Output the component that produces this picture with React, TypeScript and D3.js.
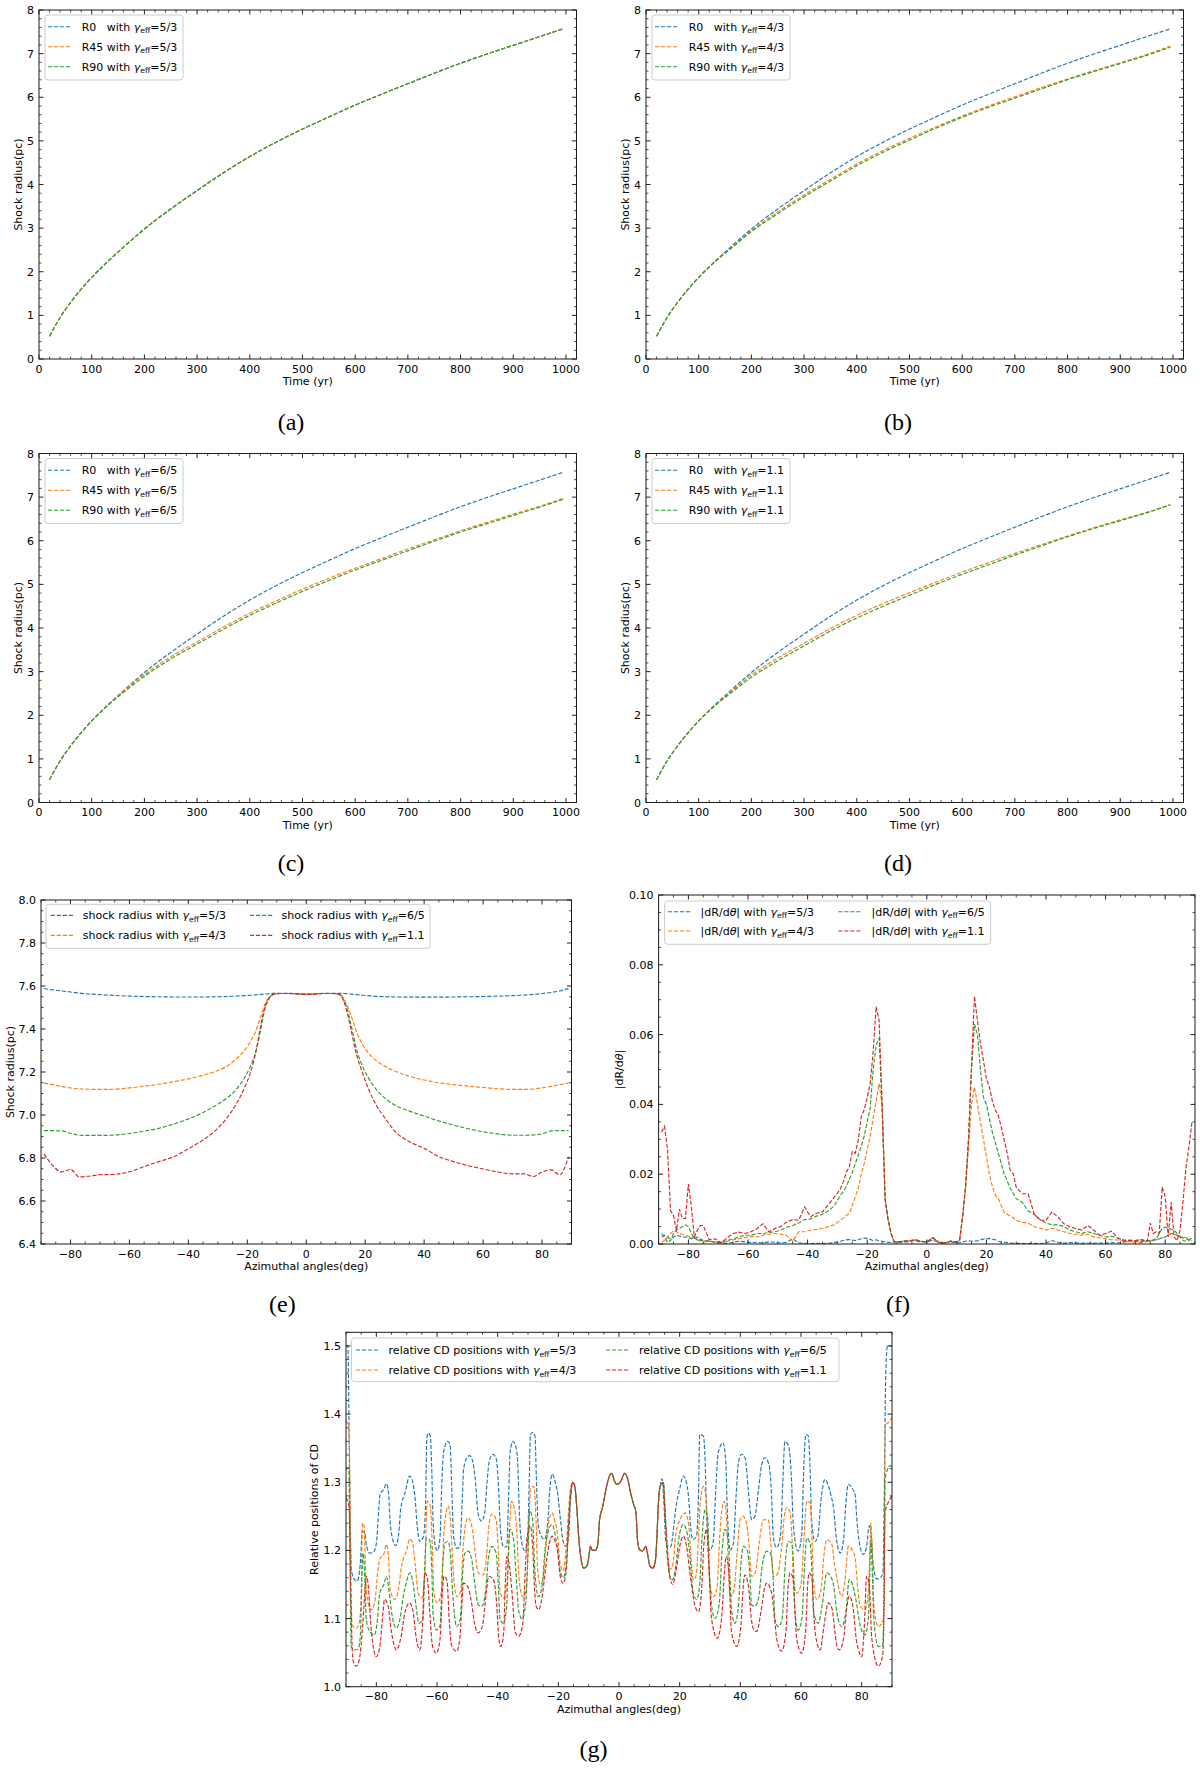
import React from 'react';
import * as d3 from 'd3';

// matplotlib tab10
const BLUE = '#1f77b4';
const ORANGE = '#ff7f0e';
const GREEN = '#2ca02c';
const RED = '#d62728';

// ---------- panels (a)-(d): shock radius vs time ----------
const time = [20, 40, 60, 80, 100, 130, 160, 200, 250, 300, 350, 400, 450, 500, 550, 600, 650, 700, 750, 800, 850, 900, 950, 995];
// R0 is the same in all four runs
const r0 = [0.52, 0.95, 1.30, 1.60, 1.87, 2.23, 2.56, 2.98, 3.44, 3.86, 4.27, 4.64, 4.97, 5.27, 5.55, 5.82, 6.07, 6.31, 6.55, 6.78, 6.99, 7.19, 7.39, 7.57];
// gamma 5/3 : R45, R90 lie on R0
const r45g53 = [0.52, 0.95, 1.30, 1.60, 1.87, 2.23, 2.56, 2.98, 3.44, 3.86, 4.27, 4.64, 4.97, 5.27, 5.55, 5.82, 6.07, 6.31, 6.55, 6.78, 6.99, 7.19, 7.39, 7.57];
const r90g53 = [0.52, 0.95, 1.30, 1.60, 1.87, 2.23, 2.56, 2.98, 3.44, 3.86, 4.27, 4.64, 4.97, 5.27, 5.55, 5.82, 6.07, 6.31, 6.55, 6.78, 6.99, 7.19, 7.39, 7.57];
// gamma 4/3
const r45g43 = [0.52, 0.95, 1.30, 1.60, 1.87, 2.22, 2.53, 2.94, 3.37, 3.76, 4.12, 4.47, 4.78, 5.06, 5.32, 5.57, 5.80, 6.01, 6.22, 6.42, 6.61, 6.79, 6.98, 7.17];
const r90g43 = [0.52, 0.95, 1.30, 1.60, 1.87, 2.22, 2.52, 2.92, 3.33, 3.72, 4.08, 4.43, 4.74, 5.02, 5.29, 5.54, 5.77, 5.98, 6.19, 6.40, 6.59, 6.77, 6.96, 7.15];
// gamma 6/5
const r45g65 = [0.52, 0.95, 1.30, 1.60, 1.87, 2.22, 2.55, 2.93, 3.34, 3.68, 4.02, 4.34, 4.62, 4.89, 5.14, 5.37, 5.59, 5.81, 6.02, 6.23, 6.42, 6.61, 6.79, 6.97];
const r90g65 = [0.52, 0.95, 1.30, 1.60, 1.87, 2.22, 2.52, 2.89, 3.29, 3.63, 3.97, 4.29, 4.57, 4.84, 5.09, 5.33, 5.55, 5.77, 5.99, 6.20, 6.39, 6.58, 6.77, 6.95];
// gamma 1.1
const r45g11 = [0.52, 0.95, 1.30, 1.60, 1.87, 2.22, 2.53, 2.92, 3.31, 3.65, 3.99, 4.29, 4.56, 4.81, 5.05, 5.28, 5.50, 5.71, 5.91, 6.11, 6.30, 6.48, 6.65, 6.83];
const r90g11 = [0.52, 0.95, 1.30, 1.60, 1.87, 2.21, 2.50, 2.87, 3.25, 3.59, 3.93, 4.23, 4.50, 4.75, 5.00, 5.23, 5.45, 5.67, 5.88, 6.09, 6.28, 6.46, 6.64, 6.82];

// ---------- panel (e): shock radius vs azimuth ----------
const eAngle = [-89, -86, -83, -80, -77, -74, -70, -65, -60, -55, -50, -45, -40, -35, -30, -27, -24, -21, -19, -17, -16, -15, -14, -13, -12, -11, -9, -6, -3, 0, 3, 6, 9, 11, 12, 13, 14, 15, 16, 17, 19, 21, 24, 27, 30, 35, 40, 45, 50, 55, 60, 65, 70, 74, 77, 80, 83, 86, 89];
const eG53 = [7.588, 7.582, 7.577, 7.572, 7.567, 7.563, 7.560, 7.556, 7.553, 7.551, 7.550, 7.549, 7.549, 7.549, 7.550, 7.551, 7.553, 7.555, 7.557, 7.559, 7.560, 7.561, 7.562, 7.564, 7.565, 7.566, 7.566, 7.566, 7.564, 7.562, 7.564, 7.566, 7.566, 7.566, 7.566, 7.565, 7.564, 7.563, 7.561, 7.560, 7.557, 7.555, 7.552, 7.550, 7.549, 7.548, 7.548, 7.548, 7.549, 7.550, 7.551, 7.553, 7.555, 7.558, 7.561, 7.565, 7.570, 7.577, 7.588];
const eG43 = [7.148, 7.141, 7.133, 7.126, 7.122, 7.120, 7.119, 7.120, 7.126, 7.134, 7.143, 7.155, 7.168, 7.185, 7.207, 7.226, 7.258, 7.300, 7.340, 7.395, 7.435, 7.475, 7.515, 7.540, 7.555, 7.562, 7.565, 7.565, 7.563, 7.561, 7.563, 7.565, 7.565, 7.562, 7.555, 7.535, 7.505, 7.470, 7.430, 7.390, 7.330, 7.290, 7.250, 7.225, 7.205, 7.180, 7.163, 7.150, 7.141, 7.134, 7.128, 7.122, 7.119, 7.119, 7.121, 7.126, 7.133, 7.141, 7.148];
const eG65 = [6.927, 6.927, 6.926, 6.915, 6.906, 6.905, 6.905, 6.907, 6.914, 6.925, 6.938, 6.958, 6.982, 7.012, 7.050, 7.078, 7.115, 7.172, 7.225, 7.300, 7.360, 7.430, 7.495, 7.530, 7.553, 7.562, 7.565, 7.565, 7.563, 7.561, 7.563, 7.565, 7.565, 7.562, 7.550, 7.525, 7.490, 7.430, 7.370, 7.310, 7.230, 7.175, 7.115, 7.075, 7.046, 7.018, 6.995, 6.972, 6.953, 6.936, 6.922, 6.912, 6.906, 6.906, 6.907, 6.912, 6.926, 6.927, 6.927];
const eG11 = [6.819, 6.765, 6.735, 6.747, 6.712, 6.715, 6.722, 6.724, 6.736, 6.760, 6.783, 6.806, 6.843, 6.884, 6.938, 6.985, 7.045, 7.125, 7.195, 7.300, 7.375, 7.445, 7.505, 7.535, 7.553, 7.562, 7.565, 7.565, 7.563, 7.561, 7.563, 7.565, 7.565, 7.562, 7.550, 7.520, 7.470, 7.410, 7.345, 7.285, 7.200, 7.125, 7.040, 6.980, 6.925, 6.876, 6.845, 6.806, 6.783, 6.764, 6.749, 6.735, 6.726, 6.726, 6.714, 6.735, 6.745, 6.722, 6.806];

// ---------- panel (f): |dR/dtheta| vs azimuth ----------
const fAngle = [
  -89, -88, -87, -86, -85, -84, -83, -82, -81, -80, -79, -78, -77, -76, -75,
  -73, -71, -69, -67, -65, -63, -61, -59, -57, -55, -53, -51, -49, -47, -45, -43, -41, -39, -37, -35, -33, -31,
  -30, -29, -28, -27, -26, -25, -24, -23, -22, -21, -20, -19, -18, -17, -16, -15, -14, -13, -12, -11, -10,
  -8, -6, -4, -2, 0, 2, 4, 6, 8,
  10, 11, 12, 13, 14, 15, 16, 17, 18, 19, 20, 21, 22, 23, 24, 25, 26, 27, 28, 29, 30,
  32, 34, 36, 38, 40, 42, 44, 46, 48, 50, 52, 54, 56, 58, 60, 62, 64, 66, 68, 70, 72, 74,
  75, 76, 77, 78, 79, 80, 81, 82, 83, 84, 85, 86, 87, 88, 89,
];
const fG53 = [
  0.002, 0.0025, 0.002, 0.0015, 0.002, 0.0025, 0.0023, 0.002, 0.002, 0.0018, 0.0015, 0.0018, 0.0012, 0.0015, 0.001,
  0.0008, 0.0005, 0.0003, 0.0002, 0.0005, 0.0008, 0.0006, 0.0004, 0.0005, 0.0003, 0.0006, 0.0005, 0.0003, 0.0005, 0.0015, 0.0003, 0.0002, 0.0001, 0.0002, 0.0001, 0.0002, 0.0004,
  0.0006, 0.0008, 0.001, 0.0012, 0.0013, 0.0011, 0.001, 0.0012, 0.0015, 0.0017, 0.0016, 0.0013, 0.001, 0.0012, 0.0009, 0.0008, 0.0006, 0.0005, 0.0004, 0.0003, 0.0003,
  0.0005, 0.0007, 0.001, 0.0006, 0.0005, 0.0012, 0.0004, 0.0003, 0.0006,
  0.0003, 0.0004, 0.0006, 0.0008, 0.0009, 0.0008, 0.0008, 0.0009, 0.0012, 0.0014, 0.0015, 0.0016, 0.0014, 0.0012, 0.0008, 0.0006, 0.0005, 0.0004, 0.0003, 0.0002, 0.0002,
  0.0002, 0.0001, 0.0002, 0.0001, 0.0003, 0.001, 0.0005, 0.0002, 0.0004, 0.0003, 0.0002, 0.0003, 0.0002, 0.0003, 0.0002, 0.0004, 0.0003, 0.0005, 0.0008, 0.001, 0.0012, 0.0009,
  0.0008, 0.001, 0.0012, 0.0015, 0.0018, 0.002, 0.0025, 0.003, 0.0028, 0.0025, 0.002, 0.0018, 0.0015, 0.0012, 0.001,
];
const fG43 = [
  0.0005, 0.001, 0.002, 0.003, 0.0038, 0.0035, 0.003, 0.0028, 0.0025, 0.0022, 0.002, 0.0018, 0.0012, 0.0008, 0.0005,
  0.0008, 0.0006, 0.0005, 0.0008, 0.0012, 0.0015, 0.0018, 0.0022, 0.002, 0.0025, 0.0028, 0.003, 0.0028, 0.0025, 0.0008, 0.0035, 0.0035, 0.004, 0.0042, 0.0045, 0.005, 0.0055,
  0.0062, 0.0068, 0.0075, 0.0082, 0.0088, 0.011, 0.0135, 0.016, 0.020, 0.023, 0.027, 0.031, 0.036, 0.041, 0.046, 0.040, 0.013, 0.007, 0.003, 0.0007, 0.0006,
  0.0008, 0.0009, 0.0012, 0.0008, 0.0006, 0.0018, 0.0005, 0.0003, 0.0008,
  0.0006, 0.001, 0.0077, 0.0163, 0.028, 0.040, 0.045, 0.040, 0.035, 0.030, 0.025, 0.020, 0.0165, 0.014, 0.013, 0.011, 0.009, 0.0085, 0.008, 0.0075, 0.0068,
  0.0062, 0.006, 0.005, 0.0045, 0.004, 0.0045, 0.004, 0.0035, 0.003, 0.0028, 0.0025, 0.0028, 0.002, 0.0018, 0.0015, 0.0012, 0.0012, 0.0008, 0.0006, 0.0005, 0.0004, 0.0008,
  0.001, 0.0009, 0.0012, 0.0015, 0.0018, 0.002, 0.0025, 0.003, 0.0028, 0.0025, 0.0023, 0.002, 0.0018, 0.0016, 0.0015,
];
const fG65 = [
  0.003, 0.002, 0.0005, 0.001, 0.003, 0.004, 0.0045, 0.005, 0.0055, 0.005, 0.003, 0.0015, 0.002, 0.001, 0.001,
  0.0008, 0.0006, 0.0005, 0.001, 0.0015, 0.002, 0.0025, 0.0025, 0.003, 0.003, 0.0033, 0.0035, 0.004, 0.0048, 0.0053, 0.006, 0.007, 0.0072, 0.008, 0.0085, 0.0095, 0.011,
  0.0125, 0.014, 0.015, 0.0165, 0.0185, 0.0205, 0.023, 0.0255, 0.028, 0.031, 0.035, 0.039, 0.05, 0.057, 0.059, 0.040, 0.013, 0.007, 0.003, 0.0007, 0.0006,
  0.0008, 0.0009, 0.0012, 0.0008, 0.0006, 0.0018, 0.0005, 0.0003, 0.0008,
  0.0006, 0.001, 0.0077, 0.0163, 0.030, 0.050, 0.063, 0.060, 0.050, 0.042, 0.040, 0.036, 0.032, 0.029, 0.026, 0.023, 0.020, 0.018, 0.016, 0.0145, 0.013,
  0.012, 0.0095, 0.0085, 0.007, 0.006, 0.0055, 0.0055, 0.005, 0.004, 0.0035, 0.003, 0.0035, 0.003, 0.0025, 0.002, 0.0022, 0.0018, 0.0012, 0.001, 0.0008, 0.0006, 0.001,
  0.001, 0.0012, 0.0015, 0.003, 0.0045, 0.0048, 0.0045, 0.0042, 0.004, 0.003, 0.002, 0.001, 0.0008, 0.001, 0.002,
];
const fG11 = [
  0.032, 0.0337, 0.027, 0.0096, 0.0082, 0.0039, 0.010, 0.0073, 0.0073, 0.0172, 0.0106, 0.002, 0.0039, 0.0053, 0.0053,
  0.0012, 0.0015, 0.0003, 0.0018, 0.003, 0.0034, 0.003, 0.0035, 0.0044, 0.0058, 0.0035, 0.0044, 0.005, 0.0063, 0.007, 0.0068, 0.0106, 0.0078, 0.0088, 0.0092, 0.0113, 0.0135,
  0.0146, 0.0158, 0.0178, 0.0206, 0.022, 0.0265, 0.026, 0.0297, 0.0364, 0.0385, 0.042, 0.046, 0.055, 0.068, 0.064, 0.040, 0.013, 0.007, 0.003, 0.0007, 0.0006,
  0.0008, 0.0009, 0.0012, 0.0008, 0.0006, 0.0018, 0.0005, 0.0003, 0.0008,
  0.0006, 0.001, 0.0077, 0.0163, 0.030, 0.051, 0.071, 0.064, 0.0574, 0.0526, 0.0474, 0.045, 0.041, 0.0383, 0.0368, 0.0335, 0.0297, 0.0259, 0.0211, 0.0201, 0.0163,
  0.0144, 0.0144, 0.0087, 0.0068, 0.0068, 0.0092, 0.0077, 0.0058, 0.0049, 0.0044, 0.004, 0.0053, 0.004, 0.0025, 0.003, 0.0037, 0.0018, 0.0009, 0.0011, 0.001, 0.0012, 0.0008,
  0.006, 0.003, 0.0035, 0.003, 0.0163, 0.0135, 0.002, 0.012, 0.002, 0.001, 0.004, 0.0125, 0.022, 0.028, 0.035,
];

// ---------- panel (g): relative CD positions [angle, value] ----------
const gCenter: [number, number][] = [
  [-14.6, 1.295], [-13.8, 1.255], [-13.2, 1.215], [-12.6, 1.19], [-11.6, 1.174], [-10.5, 1.178], [-9.9, 1.192], [-9.4, 1.206], [-8.8, 1.2], [-7.8, 1.2], [-7, 1.208], [-6.4, 1.245], [-5.5, 1.262], [-4.5, 1.285], [-3.4, 1.306], [-2.4, 1.313], [-1.6, 1.303], [-0.8, 1.297], [0, 1.298], [0.8, 1.303], [1.8, 1.313], [2.8, 1.306], [3.8, 1.285], [4.8, 1.268], [5.6, 1.255], [6.1, 1.215], [6.8, 1.201], [7.6, 1.199], [8.4, 1.203], [8.8, 1.206], [9.4, 1.195], [10.2, 1.177], [11.2, 1.174], [12, 1.185], [12.5, 1.22], [13, 1.27], [13.6, 1.295],
];
const gLeft53: [number, number][] = [
  [-90, 1.5], [-89.4, 1.5], [-88.8, 1.3], [-88.2, 1.17], [-87.2, 1.157], [-86.3, 1.155], [-85.3, 1.18], [-84.6, 1.228], [-83.8, 1.225], [-83.2, 1.206], [-82.2, 1.196], [-81, 1.197], [-80, 1.21], [-79.2, 1.26], [-78.8, 1.282], [-77.5, 1.29], [-76.7, 1.298], [-76, 1.285], [-75.5, 1.245], [-74.8, 1.22], [-73.6, 1.207], [-72.6, 1.225], [-72, 1.26], [-70.5, 1.285], [-69, 1.309], [-68, 1.3], [-67.3, 1.28], [-66.5, 1.235], [-65.7, 1.213], [-64.5, 1.22], [-63.8, 1.26], [-63.4, 1.36], [-63, 1.372], [-62.2, 1.368], [-61.8, 1.33], [-61.3, 1.245], [-60.5, 1.205], [-59.8, 1.2], [-59, 1.22], [-58.4, 1.3], [-57.8, 1.345], [-56.5, 1.36], [-55.7, 1.355], [-55.2, 1.3], [-54.5, 1.22], [-53.5, 1.203], [-52.5, 1.205], [-51.8, 1.26], [-51.2, 1.32], [-50, 1.337], [-49.2, 1.339], [-48.2, 1.33], [-47.3, 1.3], [-46.5, 1.255], [-45.3, 1.243], [-44.3, 1.255], [-43.5, 1.3], [-42.8, 1.33], [-41.6, 1.341], [-40.5, 1.335], [-39.8, 1.3], [-39, 1.225], [-38, 1.205], [-37, 1.205], [-36.4, 1.28], [-35.9, 1.343], [-35, 1.36], [-34, 1.352], [-33.4, 1.33], [-32.8, 1.25], [-32, 1.21], [-31.2, 1.2], [-30.2, 1.21], [-29.6, 1.3], [-29.2, 1.37], [-28.5, 1.373], [-27.7, 1.368], [-27.2, 1.3], [-26.6, 1.236], [-25.5, 1.22], [-24.6, 1.216], [-23.5, 1.24], [-22.8, 1.29], [-22, 1.312], [-21, 1.3], [-20.2, 1.283], [-19.3, 1.245], [-18.5, 1.215], [-17.6, 1.206], [-16.6, 1.22], [-16, 1.27], [-15.3, 1.3],
];
const gRight53: [number, number][] = [
  [14.2, 1.305], [14.8, 1.27], [15.4, 1.215], [16.2, 1.206], [17, 1.205], [17.8, 1.225], [18.6, 1.258], [20, 1.29], [21.2, 1.309], [22.2, 1.3], [23, 1.275], [23.6, 1.235], [24.3, 1.216], [25.5, 1.22], [26.2, 1.28], [26.6, 1.37], [27.8, 1.368], [28.4, 1.33], [28.9, 1.245], [29.8, 1.2], [31, 1.21], [31.8, 1.28], [32.7, 1.343], [34.3, 1.358], [35.2, 1.33], [35.7, 1.26], [36.6, 1.2], [37.7, 1.21], [38.6, 1.28], [39.4, 1.33], [40.4, 1.341], [41.6, 1.335], [42.6, 1.29], [43.7, 1.245], [44.8, 1.25], [46, 1.29], [47, 1.325], [48.1, 1.336], [49.5, 1.325], [50.3, 1.28], [50.9, 1.218], [52, 1.204], [53.2, 1.22], [54, 1.3], [54.7, 1.36], [56, 1.352], [56.8, 1.31], [57.5, 1.235], [59, 1.199], [60.2, 1.22], [60.9, 1.32], [61.6, 1.37], [62.4, 1.368], [63, 1.32], [63.5, 1.245], [64.6, 1.213], [65.6, 1.222], [66.5, 1.27], [67.9, 1.304], [69, 1.295], [69.8, 1.282], [70.8, 1.26], [71.6, 1.22], [72.9, 1.196], [74, 1.215], [74.8, 1.27], [75.6, 1.297], [77, 1.29], [77.8, 1.283], [78.5, 1.24], [79.5, 1.205], [80.5, 1.194], [81.6, 1.205], [82.5, 1.236], [83.2, 1.22], [83.8, 1.18], [85, 1.158], [86.2, 1.16], [87, 1.167], [87.5, 1.3], [87.9, 1.45], [88.5, 1.5], [90, 1.5],
];
const gLeft43: [number, number][] = [
  [-90, 1.39], [-89.3, 1.385], [-88.9, 1.36], [-88.5, 1.2], [-88, 1.09], [-86.6, 1.086], [-85.6, 1.095], [-85, 1.13], [-84.6, 1.24], [-84, 1.235], [-83.5, 1.16], [-83, 1.13], [-81.7, 1.113], [-80.5, 1.125], [-79.5, 1.17], [-78.9, 1.187], [-77.5, 1.195], [-76.7, 1.209], [-76, 1.19], [-75.4, 1.142], [-74, 1.128], [-72.8, 1.14], [-71.7, 1.177], [-70, 1.2], [-69, 1.217], [-68, 1.21], [-67.2, 1.18], [-66.2, 1.137], [-65, 1.13], [-64, 1.17], [-63.5, 1.25], [-63.2, 1.272], [-62.2, 1.265], [-61.5, 1.2], [-61, 1.137], [-59.9, 1.123], [-58.5, 1.14], [-57.8, 1.22], [-57.2, 1.25], [-56.3, 1.265], [-55.5, 1.24], [-54.8, 1.18], [-53.5, 1.132], [-52.2, 1.14], [-51.3, 1.21], [-50.5, 1.24], [-49.7, 1.248], [-48.5, 1.235], [-47.5, 1.2], [-46.4, 1.167], [-44.7, 1.164], [-43.7, 1.19], [-42.8, 1.24], [-41.9, 1.253], [-40.5, 1.245], [-39.8, 1.2], [-39.2, 1.14], [-38.1, 1.13], [-37, 1.15], [-36.2, 1.22], [-35.5, 1.272], [-34.5, 1.262], [-33.6, 1.22], [-33, 1.16], [-31.7, 1.132], [-30.6, 1.14], [-29.8, 1.22], [-29.2, 1.29], [-28.1, 1.294], [-27.4, 1.25], [-26.8, 1.17], [-25.9, 1.15], [-25, 1.16], [-24.2, 1.2], [-23.4, 1.235], [-22.1, 1.255], [-21, 1.24], [-20.3, 1.225], [-19.4, 1.18], [-18.4, 1.17], [-17.5, 1.2], [-16.6, 1.26], [-16, 1.29], [-15.3, 1.3],
];
const gRight43: [number, number][] = [
  [14.6, 1.3], [15.2, 1.26], [15.8, 1.2], [16.8, 1.172], [17.8, 1.18], [18.6, 1.22], [20.1, 1.245], [21.8, 1.255], [22.9, 1.24], [23.6, 1.2], [24.5, 1.157], [25.5, 1.165], [26.2, 1.22], [26.8, 1.27], [27.8, 1.294], [28.7, 1.28], [29.3, 1.22], [29.8, 1.16], [31.1, 1.132], [32.3, 1.145], [33.2, 1.22], [33.8, 1.255], [34.7, 1.272], [35.5, 1.245], [36, 1.18], [36.6, 1.132], [37.8, 1.14], [39, 1.2], [39.9, 1.245], [41, 1.25], [42.1, 1.238], [43, 1.2], [43.7, 1.162], [45, 1.168], [46.2, 1.21], [47.6, 1.245], [49.2, 1.245], [50.2, 1.2], [50.9, 1.162], [52.2, 1.165], [53.5, 1.2], [54.5, 1.25], [55.3, 1.263], [56.4, 1.255], [57, 1.22], [57.5, 1.157], [58.6, 1.137], [60, 1.15], [61, 1.22], [61.9, 1.272], [63, 1.27], [63.6, 1.22], [64.1, 1.157], [65.2, 1.128], [66.5, 1.14], [67.5, 1.19], [68.5, 1.216], [70.1, 1.21], [71, 1.18], [71.8, 1.16], [73.4, 1.132], [74.6, 1.16], [75.6, 1.206], [77, 1.2], [77.8, 1.19], [78.8, 1.14], [79.5, 1.118], [81.1, 1.113], [82.2, 1.14], [82.7, 1.2], [83, 1.24], [83.5, 1.2], [84, 1.12], [85.5, 1.088], [87.1, 1.098], [87.5, 1.2], [87.8, 1.383], [89.3, 1.39], [90, 1.395],
];
const gLeft65: [number, number][] = [
  [-90, 1.321], [-89.1, 1.321], [-88.7, 1.2], [-88.3, 1.059], [-87.2, 1.054], [-86, 1.055], [-85.2, 1.08], [-84.8, 1.15], [-84.4, 1.196], [-83.9, 1.17], [-83.3, 1.098], [-82, 1.08], [-80.6, 1.076], [-79.6, 1.1], [-78.9, 1.137], [-77.5, 1.15], [-76.7, 1.162], [-75.8, 1.14], [-75, 1.11], [-73.4, 1.086], [-72.2, 1.1], [-71.2, 1.13], [-70, 1.155], [-69, 1.167], [-68, 1.155], [-67.3, 1.132], [-65.9, 1.093], [-64.6, 1.1], [-64, 1.18], [-63.5, 1.218], [-62.4, 1.215], [-61.7, 1.17], [-61.3, 1.108], [-60.2, 1.083], [-59, 1.09], [-58.2, 1.17], [-57.4, 1.211], [-56.3, 1.213], [-55.5, 1.19], [-55, 1.15], [-53.5, 1.088], [-52.3, 1.1], [-51.5, 1.17], [-50.8, 1.196], [-49.7, 1.199], [-48.5, 1.185], [-47.5, 1.15], [-46.4, 1.12], [-45.2, 1.118], [-44, 1.14], [-43, 1.19], [-41.9, 1.206], [-40.5, 1.196], [-39.8, 1.15], [-39.2, 1.098], [-38.1, 1.093], [-37, 1.12], [-36.5, 1.19], [-35.9, 1.231], [-34.8, 1.218], [-34, 1.17], [-33.1, 1.112], [-32, 1.1], [-30.8, 1.12], [-30, 1.2], [-29.5, 1.258], [-28.6, 1.25], [-27.6, 1.16], [-26.5, 1.132], [-25.3, 1.15], [-24.4, 1.2], [-23.7, 1.221], [-22.1, 1.238], [-20.9, 1.22], [-20.4, 1.206], [-19.3, 1.167], [-18.4, 1.16], [-17.4, 1.18], [-16.6, 1.24], [-16, 1.28], [-15.3, 1.3],
];
const gRight65: [number, number][] = [
  [14.6, 1.3], [15.2, 1.26], [15.8, 1.2], [16.8, 1.162], [17.7, 1.157], [18.8, 1.18], [19.8, 1.22], [21.2, 1.238], [22.5, 1.225], [23.2, 1.2], [24.5, 1.137], [25.6, 1.128], [26.6, 1.15], [27.4, 1.22], [28.4, 1.26], [29.2, 1.25], [29.8, 1.17], [30.5, 1.12], [31.6, 1.1], [33, 1.12], [34, 1.2], [34.9, 1.231], [36, 1.215], [36.6, 1.16], [37.1, 1.112], [38.2, 1.093], [39.4, 1.12], [40.2, 1.18], [41, 1.206], [42.3, 1.2], [43.2, 1.16], [43.7, 1.12], [44.8, 1.118], [46, 1.13], [47.3, 1.18], [48.7, 1.199], [50, 1.195], [50.8, 1.16], [51.4, 1.1], [52.5, 1.088], [53.8, 1.1], [54.8, 1.18], [55.8, 1.213], [57, 1.21], [57.6, 1.17], [58, 1.11], [59.1, 1.083], [60.3, 1.1], [61.2, 1.18], [61.9, 1.218], [63, 1.21], [63.7, 1.16], [64.1, 1.11], [65.7, 1.093], [67, 1.12], [68.5, 1.167], [70, 1.16], [70.7, 1.15], [71.8, 1.11], [73.4, 1.088], [74.8, 1.11], [75.9, 1.157], [77, 1.15], [78, 1.13], [79.5, 1.09], [81.1, 1.076], [82.2, 1.1], [82.7, 1.17], [83, 1.216], [83.5, 1.17], [84, 1.1], [85.5, 1.059], [86.9, 1.06], [87.4, 1.15], [87.7, 1.304], [89.3, 1.324], [90, 1.324],
];
const gLeft11: [number, number][] = [
  [-90, 1.277], [-89, 1.265], [-88.5, 1.15], [-87.7, 1.039], [-86.6, 1.03], [-85.6, 1.04], [-84.5, 1.09], [-83.6, 1.15], [-83.3, 1.162], [-82.7, 1.15], [-81.8, 1.09], [-80, 1.044], [-78.8, 1.06], [-77.8, 1.11], [-77.3, 1.128], [-76.2, 1.12], [-75, 1.08], [-73.4, 1.054], [-72, 1.07], [-70.5, 1.11], [-69, 1.123], [-67.9, 1.11], [-66.8, 1.07], [-65.7, 1.054], [-64.8, 1.09], [-64.3, 1.15], [-64, 1.167], [-63.2, 1.16], [-62.4, 1.11], [-61.5, 1.06], [-60.2, 1.049], [-59, 1.07], [-58.2, 1.14], [-57.7, 1.162], [-56.7, 1.155], [-56, 1.1], [-55.2, 1.06], [-53.5, 1.052], [-52.5, 1.07], [-51.8, 1.12], [-51.3, 1.152], [-49.7, 1.145], [-48.5, 1.12], [-47.5, 1.09], [-46.4, 1.079], [-45, 1.09], [-43.7, 1.14], [-43, 1.162], [-41.5, 1.158], [-40.3, 1.12], [-39.7, 1.075], [-39, 1.059], [-38, 1.08], [-37.5, 1.15], [-37, 1.191], [-36.2, 1.18], [-35.3, 1.14], [-34.2, 1.08], [-33.1, 1.074], [-31.8, 1.09], [-30.8, 1.18], [-30.4, 1.216], [-29.2, 1.236], [-28.4, 1.2], [-27.8, 1.14], [-27.3, 1.118], [-26.5, 1.113], [-25.4, 1.13], [-24.3, 1.17], [-23, 1.21], [-22.1, 1.221], [-20.8, 1.21], [-20.4, 1.205], [-19.3, 1.16], [-18.4, 1.152], [-17.4, 1.17], [-16.6, 1.24], [-16, 1.28], [-15.3, 1.3],
];
const gRight11: [number, number][] = [
  [14.6, 1.3], [15.2, 1.25], [15.7, 1.22], [16.8, 1.16], [17.7, 1.15], [18.8, 1.17], [20, 1.205], [21.2, 1.221], [22.5, 1.2], [23.3, 1.17], [25.1, 1.118], [26.2, 1.11], [27.2, 1.14], [28, 1.21], [28.9, 1.231], [29.6, 1.18], [30.5, 1.1], [32.4, 1.071], [33.8, 1.1], [34.8, 1.17], [35.3, 1.191], [36.2, 1.17], [37.1, 1.08], [38.8, 1.059], [40.2, 1.09], [41, 1.15], [41.5, 1.164], [42.6, 1.15], [43.6, 1.1], [44.3, 1.085], [45.4, 1.081], [46.8, 1.11], [48, 1.145], [48.7, 1.152], [50.3, 1.138], [51.5, 1.09], [52, 1.07], [53.6, 1.052], [55, 1.08], [55.8, 1.15], [56.4, 1.167], [57.3, 1.16], [58, 1.11], [58.6, 1.07], [60.2, 1.049], [61.5, 1.08], [62.2, 1.15], [62.7, 1.167], [63.6, 1.16], [64.3, 1.1], [65, 1.07], [66.3, 1.054], [67.6, 1.09], [69, 1.123], [70.2, 1.115], [71.2, 1.08], [71.8, 1.06], [72.6, 1.054], [74, 1.07], [75.2, 1.12], [75.9, 1.133], [77.2, 1.115], [78.2, 1.07], [78.9, 1.055], [80, 1.044], [81, 1.1], [81.6, 1.162], [82.5, 1.15], [83.2, 1.08], [83.8, 1.055], [85.5, 1.03], [86.9, 1.045], [87.4, 1.12], [87.7, 1.255], [89.3, 1.275], [90, 1.28],
];

const gammaLabels = ['5/3', '4/3', '6/5', '1.1'];

// ---------- drawing helpers ----------
const FONT = 'DejaVu Sans, Verdana, sans-serif';
const SERIF = 'Liberation Serif, Times New Roman, serif';
const DASH = '4.2 1.8';

const steps = (start: number, stop: number, step: number) =>
  d3.range(Math.round((stop - start) / step) + 1).map(i => +(start + i * step).toFixed(6));

const minus = (v: number) => (v < 0 ? '\u2212' + Math.abs(v) : String(v));

const Gamma = ({ v }: { v: string }) => (
  <>
    <tspan fontStyle="italic">γ</tspan>
    <tspan fontSize="0.7em" dy={2.6}>eff</tspan>
    <tspan dy={-2.6}>={v}</tspan>
  </>
);

interface Line {
  pts: [number, number][];
  color: string;
}
interface LegendItem {
  color: string;
  lx: number;
  tx: number;
  ty: number;
  label: React.ReactNode;
}
interface PanelProps {
  id: string;
  left: number;
  top: number;
  width: number;
  height: number;
  xDomain: [number, number];
  yDomain: [number, number];
  xMajor: number[];
  xMinor: number[];
  yMajor: number[];
  yMinor: number[];
  yFmt: (v: number) => string;
  xLabel: string;
  yLabel: React.ReactNode;
  yLabelDx: number;
  lines: Line[];
  curve: d3.CurveFactory;
  box: [number, number, number, number];
  legend: LegendItem[];
  tag: string;
  tagX: number;
  tagY: number;
}

const zip = (xs: number[], ys: number[]) =>
  xs.slice(0, Math.min(xs.length, ys.length)).map((x, i) => [x, ys[i]] as [number, number]);

const Panel = (p: PanelProps) => {
  const x = d3.scaleLinear().domain(p.xDomain).range([0, p.width]);
  const y = d3.scaleLinear().domain(p.yDomain).range([p.height, 0]);
  const gen = d3
    .line<[number, number]>()
    .x(d => x(d[0]))
    .y(d => y(d[1]))
    .curve(p.curve);
  const MAJ = 4.5;
  const MIN = 2.5;
  const isMajor = (v: number, arr: number[]) => arr.some(m => Math.abs(m - v) < 1e-6);
  const xMin = p.xMinor.filter(v => !isMajor(v, p.xMajor) && v >= p.xDomain[0] && v <= p.xDomain[1]);
  const yMin = p.yMinor.filter(v => !isMajor(v, p.yMajor) && v >= p.yDomain[0] && v <= p.yDomain[1]);
  const tickColor = '#222';
  return (
    <g>
      <g transform={`translate(${p.left},${p.top})`}>
        <defs>
          <clipPath id={`clip-${p.id}`}>
            <rect x={0} y={0} width={p.width} height={p.height} />
          </clipPath>
        </defs>
        <g clipPath={`url(#clip-${p.id})`}>
          {p.lines.map((l, i) => {
            const pts = l.pts.filter((d, j, a) => j === 0 || d[0] > a[j - 1][0]);
            return (
              <path key={i} d={gen(pts) ?? ''} fill="none" stroke={l.color} strokeWidth={1.15} strokeDasharray={DASH} />
            );
          })}
        </g>
        {/* x ticks */}
        {p.xMajor.map(v => (
          <g key={`xM${v}`}>
            <line x1={x(v)} x2={x(v)} y1={p.height} y2={p.height - MAJ} stroke={tickColor} />
            <line x1={x(v)} x2={x(v)} y1={0} y2={MAJ} stroke={tickColor} />
            <text x={x(v)} y={p.height + 13.5} textAnchor="middle" fontSize={11} fontFamily={FONT}>
              {minus(v)}
            </text>
          </g>
        ))}
        {xMin.map(v => (
          <g key={`xm${v}`}>
            <line x1={x(v)} x2={x(v)} y1={p.height} y2={p.height - MIN} stroke={tickColor} strokeWidth={0.8} />
            <line x1={x(v)} x2={x(v)} y1={0} y2={MIN} stroke={tickColor} strokeWidth={0.8} />
          </g>
        ))}
        {/* y ticks */}
        {p.yMajor.map(v => (
          <g key={`yM${v}`}>
            <line x1={0} x2={MAJ} y1={y(v)} y2={y(v)} stroke={tickColor} />
            <line x1={p.width} x2={p.width - MAJ} y1={y(v)} y2={y(v)} stroke={tickColor} />
            <text x={-5} y={y(v) + 4} textAnchor="end" fontSize={11} fontFamily={FONT}>
              {p.yFmt(v)}
            </text>
          </g>
        ))}
        {yMin.map(v => (
          <g key={`ym${v}`}>
            <line x1={0} x2={MIN} y1={y(v)} y2={y(v)} stroke={tickColor} strokeWidth={0.8} />
            <line x1={p.width} x2={p.width - MIN} y1={y(v)} y2={y(v)} stroke={tickColor} strokeWidth={0.8} />
          </g>
        ))}
        <rect x={0} y={0} width={p.width} height={p.height} fill="none" stroke="#1a1a1a" strokeWidth={1} />
        {/* axis labels */}
        <text x={p.width / 2} y={p.height + 26} textAnchor="middle" fontSize={11} fontFamily={FONT}>
          {p.xLabel}
        </text>
        <text
          transform={`translate(${p.yLabelDx},${p.height / 2}) rotate(-90)`}
          textAnchor="middle"
          fontSize={11}
          fontFamily={FONT}
        >
          {p.yLabel}
        </text>
        {/* legend */}
        <rect
          x={p.box[0]}
          y={p.box[1]}
          width={p.box[2]}
          height={p.box[3]}
          rx={3}
          fill="#fff"
          fillOpacity={0.8}
          stroke="#cccccc"
          strokeWidth={1}
        />
        {p.legend.map((it, i) => (
          <g key={i}>
            <line x1={it.lx} x2={it.lx + 22.5} y1={it.ty} y2={it.ty} stroke={it.color} strokeWidth={1.15} strokeDasharray={DASH} />
            <text x={it.tx} y={it.ty + 4} fontSize={11} fontFamily={FONT} style={{ whiteSpace: 'pre' }}>
              {it.label}
            </text>
          </g>
        ))}
      </g>
      <text x={p.tagX} y={p.tagY} textAnchor="middle" fontSize={24} fontFamily={SERIF}>
        {p.tag}
      </text>
    </g>
  );
};

// ---------- layout of the four time panels ----------
const timePanels = [
  { id: 'a', left: 39, top: 10, g: '5/3', r45: r45g53, r90: r90g53, tagX: 291, tagY: 430 },
  { id: 'b', left: 646, top: 10, g: '4/3', r45: r45g43, r90: r90g43, tagX: 898, tagY: 430 },
  { id: 'c', left: 39, top: 453.5, g: '6/5', r45: r45g65, r90: r90g65, tagX: 291, tagY: 871 },
  { id: 'd', left: 646, top: 453.5, g: '1.1', r45: r45g11, r90: r90g11, tagX: 898, tagY: 871 },
];

const angleMajor = steps(-80, 80, 20);
const angleMinor = steps(-90, 90, 5);
const colors = [BLUE, ORANGE, GREEN, RED];

const twoColLegend = (
  labels: React.ReactNode[],
  col1: [number, number],
  col2: [number, number],
  rows: [number, number],
): LegendItem[] => [
  { color: colors[0], lx: col1[0], tx: col1[1], ty: rows[0], label: labels[0] },
  { color: colors[1], lx: col1[0], tx: col1[1], ty: rows[1], label: labels[1] },
  { color: colors[2], lx: col2[0], tx: col2[1], ty: rows[0], label: labels[2] },
  { color: colors[3], lx: col2[0], tx: col2[1], ty: rows[1], label: labels[3] },
];

const dRdTheta = (
  <>
    |dR/d<tspan fontStyle="italic">θ</tspan>|
  </>
);

export default function App() {
  const W = 1200;
  const H = 1771;
  return (
    <div style={{ position: 'absolute', left: 0, top: 0, width: W, height: H, background: '#fff' }}>
      <svg width={W} height={H} viewBox={`0 0 ${W} ${H}`} style={{ display: 'block' }}>
        <rect width={W} height={H} fill="#fff" />
        {timePanels.map(tp => (
          <Panel
            key={tp.id}
            id={tp.id}
            left={tp.left}
            top={tp.top}
            width={537.5}
            height={349}
            xDomain={[0, 1020]}
            yDomain={[0, 8]}
            xMajor={steps(0, 1000, 100)}
            xMinor={steps(0, 1020, 20)}
            yMajor={steps(0, 8, 1)}
            yMinor={steps(0, 8, 0.2)}
            yFmt={v => String(v)}
            xLabel="Time (yr)"
            yLabel="Shock radius(pc)"
            yLabelDx={-17}
            curve={d3.curveMonotoneX}
            lines={[
              { pts: zip(time, r0), color: BLUE },
              { pts: zip(time, tp.r45), color: ORANGE },
              { pts: zip(time, tp.r90), color: GREEN },
            ]}
            box={[6, 5, 138, 65]}
            legend={[
              { color: BLUE, lx: 9, tx: 42.7, ty: 16.7, label: <>R0   with <Gamma v={tp.g} /></> },
              { color: ORANGE, lx: 9, tx: 42.7, ty: 36.7, label: <>R45 with <Gamma v={tp.g} /></> },
              { color: GREEN, lx: 9, tx: 42.7, ty: 56.7, label: <>R90 with <Gamma v={tp.g} /></> },
            ]}
            tag={`(${tp.id})`}
            tagX={tp.tagX}
            tagY={tp.tagY}
          />
        ))}

        <Panel
          id="e"
          left={41}
          top={900}
          width={530.5}
          height={344}
          xDomain={[-90, 90]}
          yDomain={[6.4, 8.0]}
          xMajor={angleMajor}
          xMinor={angleMinor}
          yMajor={steps(6.4, 8.0, 0.2)}
          yMinor={steps(6.4, 8.0, 0.05)}
          yFmt={v => v.toFixed(1)}
          xLabel="Azimuthal angles(deg)"
          yLabel="Shock radius(pc)"
          yLabelDx={-27.5}
          curve={d3.curveMonotoneX}
          lines={[
            { pts: zip(eAngle, eG53), color: BLUE },
            { pts: zip(eAngle, eG43), color: ORANGE },
            { pts: zip(eAngle, eG65), color: GREEN },
            { pts: zip(eAngle, eG11), color: RED },
          ]}
          box={[5, 4.3, 384, 44]}
          legend={twoColLegend(
            gammaLabels.map(g => <>shock radius with <Gamma v={g} /></>),
            [9.7, 41.8],
            [209, 240.6],
            [15.3, 35.3],
          )}
          tag="(e)"
          tagX={282.4}
          tagY={1312}
        />

        <Panel
          id="f"
          left={658.6}
          top={895}
          width={536.4}
          height={349}
          xDomain={[-90, 90]}
          yDomain={[0, 0.1]}
          xMajor={angleMajor}
          xMinor={angleMinor}
          yMajor={steps(0, 0.1, 0.02)}
          yMinor={steps(0, 0.1, 0.005)}
          yFmt={v => v.toFixed(2)}
          xLabel="Azimuthal angles(deg)"
          yLabel={dRdTheta}
          yLabelDx={-36}
          curve={d3.curveLinear}
          lines={[
            { pts: zip(fAngle, fG53), color: BLUE },
            { pts: zip(fAngle, fG43), color: ORANGE },
            { pts: zip(fAngle, fG65), color: GREEN },
            { pts: zip(fAngle, fG11), color: RED },
          ]}
          box={[6, 6, 326, 43.3]}
          legend={twoColLegend(
            gammaLabels.map(g => <>{dRdTheta} with <Gamma v={g} /></>),
            [9.4, 42],
            [179.7, 212.9],
            [16.7, 36],
          )}
          tag="(f)"
          tagX={898}
          tagY={1312}
        />

        <Panel
          id="g"
          left={346}
          top={1332.3}
          width={546}
          height={354.4}
          xDomain={[-90, 90]}
          yDomain={[1.0, 1.52]}
          xMajor={angleMajor}
          xMinor={angleMinor}
          yMajor={steps(1.0, 1.5, 0.1)}
          yMinor={steps(1.0, 1.52, 0.02)}
          yFmt={v => v.toFixed(1)}
          xLabel="Azimuthal angles(deg)"
          yLabel="Relative positions of CD"
          yLabelDx={-28.3}
          curve={d3.curveMonotoneX}
          lines={[
            { pts: [...gLeft53, ...gCenter, ...gRight53], color: BLUE },
            { pts: [...gLeft43, ...gCenter, ...gRight43], color: ORANGE },
            { pts: [...gLeft65, ...gCenter, ...gRight65], color: GREEN },
            { pts: [...gLeft11, ...gCenter, ...gRight11], color: RED },
          ]}
          box={[5.5, 5.7, 487.5, 43.7]}
          legend={twoColLegend(
            gammaLabels.map(g => <>relative CD positions with <Gamma v={g} /></>),
            [9.8, 42.6],
            [260, 293],
            [17.7, 37.7],
          )}
          tag="(g)"
          tagX={593.6}
          tagY={1757}
        />
      </svg>
    </div>
  );
}
